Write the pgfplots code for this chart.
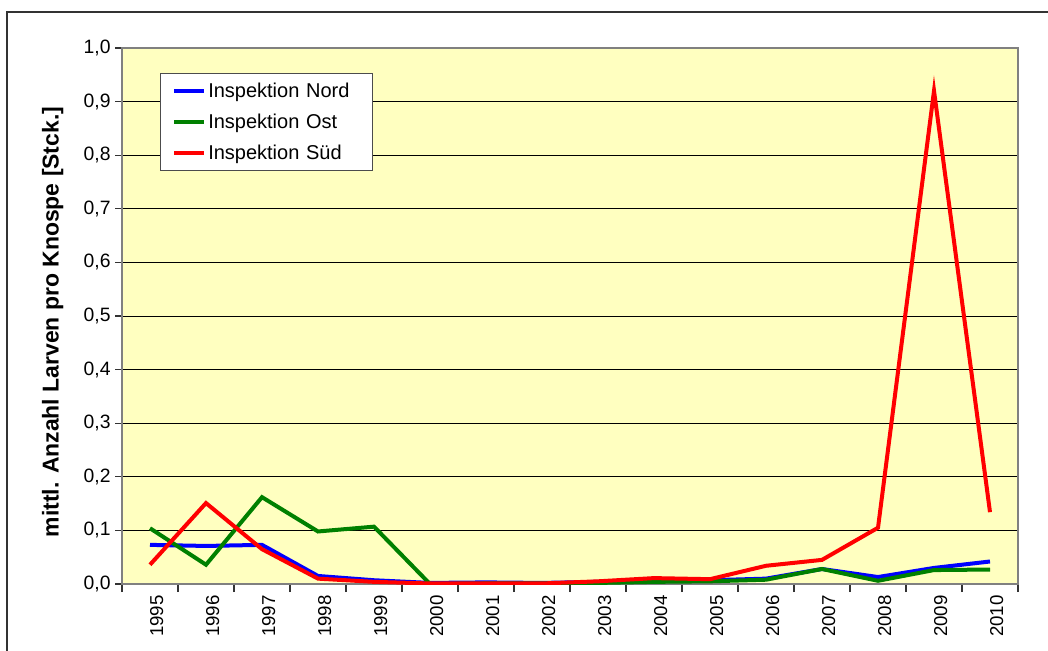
\documentclass[border=0pt]{standalone}
\usepackage{pgfplots}
\pgfplotsset{compat=1.18}
\usepackage{fontspec}
\setmainfont{Liberation Sans}
\definecolor{bgy}{RGB}{255,255,192}
\definecolor{nord}{RGB}{0,0,255}
\definecolor{ost}{RGB}{0,128,0}
\definecolor{sued}{RGB}{255,0,0}
\begin{document}
\begin{tikzpicture}
\path[use as bounding box] (0,0) rectangle (786pt,487.5pt);
\draw[line width=1.5pt, black!80] (5.25pt,-10pt) -- (5.25pt,478.5pt) -- (800pt,478.5pt);
\begin{axis}[
  at={(91.5pt,49.5pt)}, anchor=south west,
  scale only axis, width=672pt, height=402pt,
  xmin=-0.5, xmax=15.5, ymin=0, ymax=1,
  axis background/.style={fill=bgy},
  axis line style={draw=gray, line width=0.8pt},
  xtick={0,...,15},
  xticklabels={1995,1996,1997,1998,1999,2000,2001,2002,2003,2004,2005,2006,2007,2008,2009,2010},
  minor xtick={-0.5,0.5,...,15.5},
  major x tick style={draw=none},
  minor x tick style={draw=black!80, line width=0.8pt},
  minor tick length=6pt,
  xticklabel style={rotate=90, anchor=east, font=\fontsize{14}{16}\selectfont},
  x tick label style={yshift=-5pt},
  ytick={0,0.1,...,1.0},
  yticklabel style={font=\fontsize{14.5}{16}\selectfont, /pgf/number format/.cd, fixed, fixed zerofill, precision=1, use comma},
  /pgf/number format/assume math mode=true,
  y tick style={draw=black!80, line width=0.8pt},
  major tick length=5pt,
  tick align=outside,
  tick pos=left,
  ymajorgrids,
  grid style={black, line width=0.7pt},
  ylabel={mittl. Anzahl Larven pro Knospe [Stck.]},
  every axis y label/.style={at={(-52pt,0.5)}, yshift=-4.5pt, rotate=90, anchor=center, font=\bfseries\fontsize{17.2}{19}\selectfont},
  legend style={at={(0.0424,0.9534)}, anchor=north west, draw=black!70, fill=white,
    font=\fontsize{15}{18}\selectfont, row sep=7pt, inner xsep=9pt, inner ysep=5pt,
    nodes={inner xsep=2pt, text width=112pt}},
  legend cell align=left,
  legend image code/.code={\draw[line width=3pt, #1] (0pt,0pt) -- (22pt,0pt);},
]
\addplot[nord, line width=3pt] coordinates {
(0,0.073)(1,0.071)(2,0.073)(3,0.015)(4,0.007)(5,0.002)(6,0.003)(7,0.002)(8,0.004)(9,0.006)(10,0.007)(11,0.010)(12,0.028)(13,0.013)(14,0.030)(15,0.042)};
\addlegendentry{Inspektion Nord}
\addplot[ost, line width=3pt] coordinates {
(0,0.104)(1,0.036)(2,0.162)(3,0.098)(4,0.107)(5,0.000)(6,0.001)(7,0.001)(8,0.002)(9,0.004)(10,0.005)(11,0.008)(12,0.028)(13,0.006)(14,0.026)(15,0.027)};
\addlegendentry{Inspektion Ost}
\addplot[sued, line width=3pt] coordinates {
(0,0.036)(1,0.151)(2,0.065)(3,0.010)(4,0.004)(5,0.001)(6,0.001)(7,0.001)(8,0.005)(9,0.011)(10,0.009)(11,0.034)(12,0.045)(13,0.105)(14,0.920)(15,0.134)};
\addlegendentry{Inspektion Süd}
\end{axis}
\end{tikzpicture}
\end{document}
